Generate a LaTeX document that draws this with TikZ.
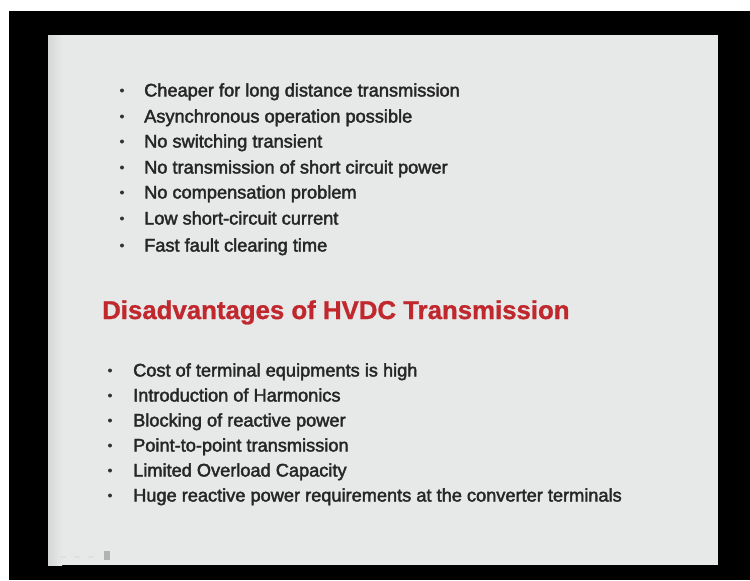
\documentclass[tikz,border=0pt]{standalone}
\usepackage{fontspec}
\setmainfont{Liberation Sans}
\newfontfamily\bodyfont[FakeBold=2.2]{Liberation Sans}
\newfontfamily\headfont[FakeBold=1]{Liberation Sans}
\definecolor{slidebg}{HTML}{E7E9E8}
\definecolor{slideedge}{HTML}{D4D7D6}
\definecolor{bodytext}{HTML}{262626}
\definecolor{headred}{HTML}{C0282D}
\definecolor{bulletgray}{HTML}{333333}
\tikzset{
  itemtext/.style={anchor=base west, inner sep=0pt, text=bodytext,
    font=\bodyfont\fontsize{18.2}{20}\selectfont},
  headtext/.style={anchor=base west, inner sep=0pt, text=headred,
    font=\headfont\bfseries\fontsize{25.8}{28}\selectfont},
  bulletdot/.style={circle, fill=bulletgray, inner sep=0pt, minimum size=4pt},
}
\begin{document}
\begin{tikzpicture}[x=1pt,y=-1pt]
\useasboundingbox (0,0) rectangle (750,581);
% frame
\fill[white] (0,0) rectangle (750,581);
\fill[black] (9,11) rectangle (750,580);
\fill[slidebg] (48,35) rectangle (718,565);
\shade[left color=slideedge, right color=slidebg] (48,35) rectangle (62,565);
% top list
\foreach \i/\y/\t in {
  1/96.5/{Cheaper for long distance transmission},
  2/122.5/{Asynchronous operation possible},
  3/147.5/{No switching transient},
  4/173.5/{No transmission of short circuit power},
  5/198.5/{No compensation problem},
  6/224.5/{Low short-circuit current},
  7/251.5/{Fast fault clearing time}}{
  \node[bulletdot] (ab\i) at (122,\y-6) {};
  \node[itemtext] (at\i) at (144,\y) {\t};
}
% heading
\node[headtext] (head) at (102,319) {Disadvantages of HVDC Transmission};
% bottom list
\foreach \i/\y/\t in {
  1/376.5/{Cost of terminal equipments is high},
  2/401.5/{Introduction of Harmonics},
  3/426.5/{Blocking of reactive power},
  4/451.5/{Point-to-point transmission},
  5/476.5/{Limited Overload Capacity},
  6/501.5/{Huge reactive power requirements at the converter terminals}}{
  \node[bulletdot] (db\i) at (110,\y-6) {};
  \node[itemtext] (dt\i) at (133,\y) {\t};
}
% faint slide-show controls
\fill[gray!60] (104,551) rectangle (110,560);
\fill[gray!25] (60,556) rectangle (66,557.5);
\fill[gray!25] (74,556) rectangle (80,557.5);
\fill[gray!25] (88,556) rectangle (94,557.5);
\end{tikzpicture}
\end{document}
